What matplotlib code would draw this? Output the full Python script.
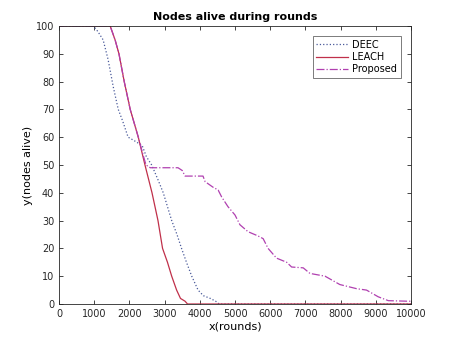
import matplotlib
matplotlib.use("Agg")
import matplotlib.pyplot as plt

# rounds / alive nodes
deec_x = [0, 970, 1100, 1250, 1390, 1540, 1680, 1800, 1960, 2100, 2360, 2480, 2630, 2800,
          2960, 3080, 3200, 3350, 3480, 3620, 3770, 3950, 4100, 4300, 4450, 4550, 10000]
deec_y = [100, 100, 98, 95, 88, 78, 70, 66, 60, 59, 57, 53, 50, 45,
          40, 35, 30, 25, 20, 15, 10, 5, 3, 2, 1, 0, 0]

leach_x = [0, 1450, 1590, 1700, 1850, 2020, 2250, 2440, 2640, 2810, 2940, 3080, 3200,
           3340, 3450, 3580, 3650, 10000]
leach_y = [100, 100, 95, 90, 80, 70, 60, 50, 40, 30, 20, 15, 10,
           5, 2, 1, 0, 0]

prop_x = [0, 1450, 1590, 1700, 1850, 2020, 2250, 2400, 2470, 2590, 3380, 3500, 3580, 4090,
          4150, 4375, 4520, 4620, 4800, 5000, 5140, 5370, 5650, 5800, 5940, 6180, 6470,
          6610, 6940, 7130, 7560, 7980, 8460, 8740, 9070, 9360, 9920, 10000]
prop_y = [100, 100, 95, 90, 80, 70, 60, 53, 50, 49, 49, 48, 46, 46,
          44, 42, 41, 38.5, 35, 32, 28.5, 26, 24.5, 23.5, 20, 16.5, 15,
          13.3, 13, 11, 10, 7, 5.5, 5, 2.6, 1.2, 1, 1]

fig = plt.figure(figsize=(4.55, 3.41), dpi=100)
ax = fig.add_axes([0.130, 0.1085, 0.773, 0.8155])

ax.plot(deec_x, deec_y, ":", color="#4a5a9a", lw=0.9, label="DEEC")
ax.plot(leach_x, leach_y, "-", color="#c0304a", lw=0.9, label="LEACH")
ax.plot(prop_x, prop_y, "-.", color="#b040b0", lw=0.9, label="Proposed")

ax.set_xlim(0, 10000)
ax.set_ylim(0, 100)
ax.set_xticks(range(0, 10001, 1000))
ax.set_yticks(range(0, 101, 10))
ax.tick_params(direction="in", top=True, right=True, labelsize=7, length=3,
               colors="#262626", width=0.6)
for s in ax.spines.values():
    s.set_linewidth(0.6)
    s.set_color("#262626")

ax.set_title("Nodes alive during rounds", fontsize=8, fontweight="bold", pad=4)
ax.set_xlabel("x(rounds)", fontsize=8, labelpad=2)
ax.set_ylabel("y(nodes alive)", fontsize=8, labelpad=2)

leg = ax.legend(loc="upper right", fontsize=7, frameon=True, fancybox=False,
                handlelength=3.2, handletextpad=0.5, borderaxespad=1.0,
                labelspacing=0.25)
leg.get_frame().set_edgecolor("#404040")
leg.get_frame().set_linewidth(0.6)

fig.savefig("out.png", dpi=100)
